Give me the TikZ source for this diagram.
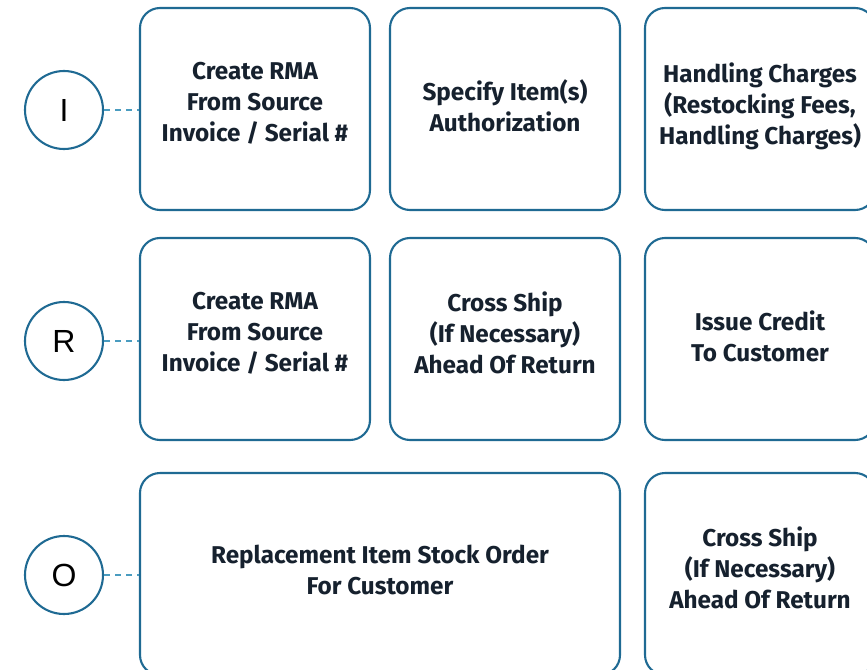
\documentclass[tikz,border=0pt]{standalone}
\usepackage{fontspec}
\setmainfont{Fira Sans}
\newfontfamily\circfont{Liberation Sans}
\definecolor{edgeblue}{HTML}{1F6A93}
\definecolor{dashblue}{HTML}{4A9CC0}
\definecolor{txtdark}{HTML}{16212E}
\begin{document}
\begin{tikzpicture}[x=1pt,y=-1pt,
 box/.style={draw=edgeblue, line width=2.1pt, rounded corners=20pt, fill=white, minimum height=202pt, inner sep=0pt},
 lbl/.style={font=\bfseries\fontsize{24.3}{31}\selectfont, text=txtdark, align=center, inner sep=0pt},
 circ/.style={circle, draw=edgeblue, line width=2.1pt, minimum size=78pt, inner sep=0pt, font=\circfont\fontsize{32}{32}\selectfont},
 link/.style={draw=dashblue, line width=2.6pt, dash pattern=on 6pt off 5pt}]
\useasboundingbox (0,0) rectangle (867,669);
\clip (0,0) rectangle (867,669);
% circles
\node[circ] (cI) at (64,110) {I};
\node[circ] (cR) at (64,341) {R};
\node[circ] (cO) at (64,575) {O};
% boxes row 1
\node[box, minimum width=230pt] (b11) at (255,109) {};
\node[box, minimum width=230pt] (b12) at (505,109) {};
\node[box, minimum width=230pt] (b13) at (760,109) {};
% row 2
\node[box, minimum width=230pt] (b21) at (255,339) {};
\node[box, minimum width=230pt] (b22) at (505,339) {};
\node[box, minimum width=230pt] (b23) at (760,339) {};
% row 3
\node[box, minimum width=480pt] (b31) at (380,574) {};
\node[box, minimum width=230pt] (b32) at (760,574) {};
% labels
\node[lbl] (t11) at ([yshift=6pt]b11.center) {Create RMA\\From Source\\Invoice / Serial \#};
\node[lbl] (t12) at ([yshift=3pt]b12.center) {Specify Item(s)\\Authorization};
\node[lbl] (t13) at ([yshift=3pt]b13.center) {Handling Charges\\(Restocking Fees,\\Handling Charges)};
\node[lbl] (t21) at ([yshift=6pt]b21.center) {Create RMA\\From Source\\Invoice / Serial \#};
\node[lbl] (t22) at ([yshift=6pt]b22.center) {Cross Ship\\(If Necessary)\\Ahead Of Return};
\node[lbl] (t23) at ([yshift=3pt]b23.center) {Issue Credit\\To Customer};
\node[lbl] (t31) at ([yshift=4pt]b31.center) {Replacement Item Stock Order\\For Customer};
\node[lbl] (t32) at ([yshift=6pt]b32.center) {Cross Ship\\(If Necessary)\\Ahead Of Return};
% links
\draw[link] (cI.east) -- (cI.east -| b11.west);
\draw[link] (cR.east) -- (cR.east -| b21.west);
\draw[link] (cO.east) -- (cO.east -| b31.west);
\end{tikzpicture}
\end{document}
